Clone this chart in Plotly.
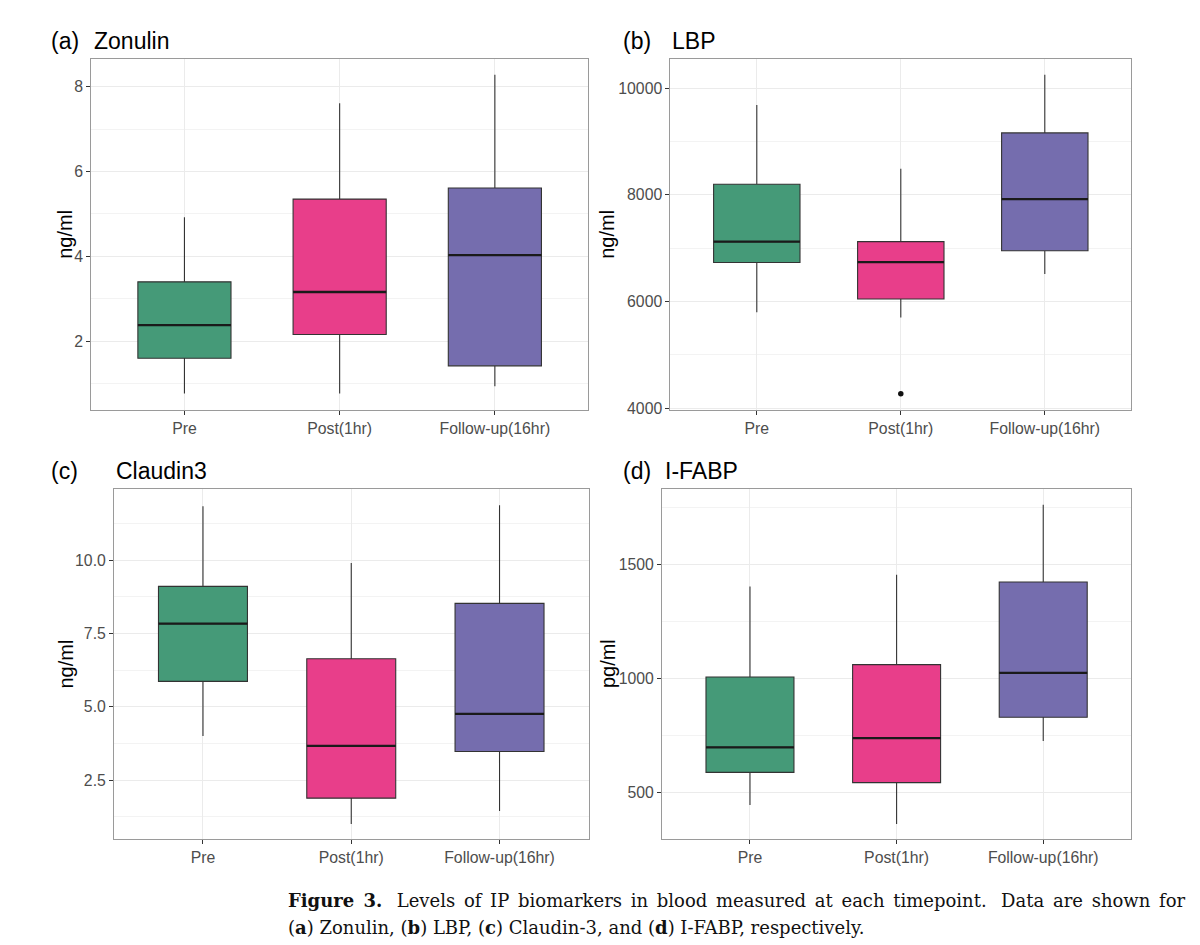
import plotly.graph_objects as go

# ---------------- data ----------------
categories = ["Pre", "Post(1hr)", "Follow-up(16hr)"]
colors = ["#459A78", "#E83E8A", "#756DAE"]

zonulin_q1 = [1.60, 2.16, 1.42]
zonulin_median = [2.38, 3.16, 4.03]
zonulin_q3 = [3.40, 5.35, 5.61]
zonulin_lower = [0.77, 0.77, 0.94]
zonulin_upper = [4.92, 7.61, 8.28]

lbp_q1 = [6733, 6048, 6951]
lbp_median = [7124, 6738, 7920]
lbp_q3 = [8199, 7124, 9161]
lbp_lower = [5801, 5702, 6515]
lbp_upper = [9683, 8490, 10250]
lbp_outlier_group = [1]
lbp_outlier_value = [4272]

claudin_q1 = [5.87, 1.89, 3.48]
claudin_median = [7.84, 3.67, 4.76]
claudin_q3 = [9.11, 6.64, 8.53]
claudin_lower = [4.01, 1.01, 1.45]
claudin_upper = [11.84, 9.91, 11.88]

ifabp_q1 = [587, 542, 829]
ifabp_median = [697, 737, 1024]
ifabp_q3 = [1006, 1060, 1423]
ifabp_lower = [443, 360, 725]
ifabp_upper = [1403, 1455, 1763]

yticks_a = [2, 4, 6, 8]
yticks_b = [4000, 6000, 8000, 10000]
yticks_c = [2.5, 5.0, 7.5, 10.0]
yticks_c_text = ["2.5", "5.0", "7.5", "10.0"]
yticks_d = [500, 1000, 1500]

# ---------------- style ----------------
W, H = 1200, 945
BOX_W = 0.6
TICK_FONT = dict(family="Liberation Sans, Arial, sans-serif", size=15.8, color="#4D4D4D")
TITLE_FONT = dict(family="Liberation Sans, Arial, sans-serif", size=23, color="#000000")
YLAB_FONT = dict(family="Liberation Sans, Arial, sans-serif", size=20, color="#000000")
CAP_FONT = dict(family="DejaVu Serif, serif", size=18, color="#111111")
GRID = "#EBEBEB"
MINOR_GRID = "#F3F3F3"
BORDER = "#9A9A9A"


def px(x):
    return x / W


def py(y):
    return 1 - y / H


panels = [
    dict(key="a", xd=(83.3, 580.0), yd=(51, 405),
         q1=zonulin_q1, med=zonulin_median, q3=zonulin_q3, lo=zonulin_lower, hi=zonulin_upper,
         yr=[0.38, 8.66], tv=yticks_a, tt=[str(v) for v in yticks_a], minor=(1, 2),
         lab="(a)", labx=41, name="Zonulin", namex=83.5, titley=33, ylab="ng/ml", ylabx=57.5),
    dict(key="b", xd=(662.4, 1123.2), yd=(51, 405),
         q1=lbp_q1, med=lbp_median, q3=lbp_q3, lo=lbp_lower, hi=lbp_upper,
         yr=[3968, 10553], tv=yticks_b, tt=[str(v) for v in yticks_b], minor=(5000, 2000),
         lab="(b)", labx=613.4, name="LBP", namex=662.4, titley=33, ylab="ng/ml", ylabx=599.5),
    dict(key="c", xd=(106.0, 580.5), yd=(484.3, 837.7),
         q1=claudin_q1, med=claudin_median, q3=claudin_q3, lo=claudin_lower, hi=claudin_upper,
         yr=[0.48, 12.44], tv=yticks_c, tt=yticks_c_text, minor=(1.25, 2.5),
         lab="(c)", labx=41.4, name="Claudin3", namex=106, titley=466.5, ylab="ng/ml", ylabx=58.4),
    dict(key="d", xd=(654.0, 1123.2), yd=(484.3, 837.7),
         q1=ifabp_q1, med=ifabp_median, q3=ifabp_q3, lo=ifabp_lower, hi=ifabp_upper,
         yr=[292, 1833], tv=yticks_d, tt=[str(v) for v in yticks_d], minor=(750, 500),
         lab="(d)", labx=613.4, name="I-FABP", namex=654.8, titley=466.5, ylab="pg/ml", ylabx=600),
]

fig = go.Figure()
annotations = []
layout_axes = {}

for k, p in enumerate(panels):
    n = k + 1
    xa = "x" if n == 1 else f"x{n}"
    ya = "y" if n == 1 else f"y{n}"
    xkey = "xaxis" if n == 1 else f"xaxis{n}"
    ykey = "yaxis" if n == 1 else f"yaxis{n}"

    for i, cat in enumerate(categories):
        fig.add_trace(go.Box(
            x=[i], q1=[p["q1"][i]], median=[p["med"][i]], q3=[p["q3"][i]],
            lowerfence=[p["lo"][i]], upperfence=[p["hi"][i]],
            width=BOX_W, whiskerwidth=0, boxpoints=False,
            fillcolor=colors[i], line=dict(color="#333333", width=1.1),
            xaxis=xa, yaxis=ya, showlegend=False, name=cat, hoverinfo="skip",
        ))
    # thicker median lines (ggplot style)
    mx, my = [], []
    for i in range(len(categories)):
        mx += [i - BOX_W / 2, i + BOX_W / 2, None]
        my += [p["med"][i], p["med"][i], None]
    fig.add_trace(go.Scatter(x=mx, y=my, mode="lines", line=dict(color="#1A1A1A", width=2.3),
                             xaxis=xa, yaxis=ya, showlegend=False, hoverinfo="skip"))

    if p["key"] == "b":
        fig.add_trace(go.Scatter(x=lbp_outlier_group, y=lbp_outlier_value, mode="markers",
                                 marker=dict(color="#111111", size=5.5),
                                 xaxis=xa, yaxis=ya, showlegend=False, hoverinfo="skip"))

    layout_axes[xkey] = dict(
        domain=[px(p["xd"][0]), px(p["xd"][1])], anchor=ya,
        range=[-0.6, 2.6], tickvals=[0, 1, 2], ticktext=categories,
        showgrid=True, gridcolor=GRID, gridwidth=1, zeroline=False,
        showline=True, mirror=True, linecolor=BORDER, linewidth=1,
        ticks="outside", ticklen=4, tickcolor="#333333", tickwidth=1,
        tickfont=TICK_FONT, fixedrange=True,
    )
    layout_axes[ykey] = dict(
        domain=[py(p["yd"][1]), py(p["yd"][0])], anchor=xa,
        range=p["yr"], tickvals=p["tv"], ticktext=p["tt"],
        showgrid=True, gridcolor=GRID, gridwidth=1, zeroline=False,
        showline=True, mirror=True, linecolor=BORDER, linewidth=1,
        ticks="outside", ticklen=4, tickcolor="#333333", tickwidth=1,
        tickfont=TICK_FONT, fixedrange=True,
        minor=dict(tick0=p["minor"][0], dtick=p["minor"][1], showgrid=True,
                   gridcolor=MINOR_GRID, gridwidth=0.7, ticks=""),
    )

    annotations.append(dict(text=p["lab"], x=px(p["labx"]), y=py(p["titley"]), xref="paper", yref="paper",
                            xanchor="left", yanchor="middle", showarrow=False, font=TITLE_FONT))
    annotations.append(dict(text=p["name"], x=px(p["namex"]), y=py(p["titley"]), xref="paper", yref="paper",
                            xanchor="left", yanchor="middle", showarrow=False, font=TITLE_FONT))
    annotations.append(dict(text=p["ylab"], x=px(p["ylabx"]), y=py((p["yd"][0] + p["yd"][1]) / 2),
                            xref="paper", yref="paper", xanchor="center", yanchor="middle",
                            textangle=-90, showarrow=False, font=YLAB_FONT))

nb = "\u00a0"
gap = " \u2006"  # slightly widened word gap to mimic the justified first line
caption1_words = ["<b>Figure", "3.</b>" + nb, "Levels", "of", "IP", "biomarkers", "in", "blood",
                  "measured", "at", "each", "timepoint." + nb, "Data", "are", "shown", "for"]
caption1 = gap.join(caption1_words)
caption2 = "(<b>a</b>) Zonulin, (<b>b</b>) LBP, (<b>c</b>) Claudin-3, and (<b>d</b>) I-FABP, respectively."
annotations.append(dict(text=caption1, x=px(278), y=py(899), xref="paper", yref="paper",
                        xanchor="left", yanchor="middle", showarrow=False, font=CAP_FONT))
annotations.append(dict(text=caption2, x=px(278), y=py(926), xref="paper", yref="paper",
                        xanchor="left", yanchor="middle", showarrow=False, font=CAP_FONT))

fig.update_layout(
    width=W, height=H, margin=dict(l=0, r=0, t=0, b=0),
    paper_bgcolor="white", plot_bgcolor="white",
    boxmode="overlay", showlegend=False,
    annotations=annotations,
    **layout_axes,
)

fig.write_html("out.html")
